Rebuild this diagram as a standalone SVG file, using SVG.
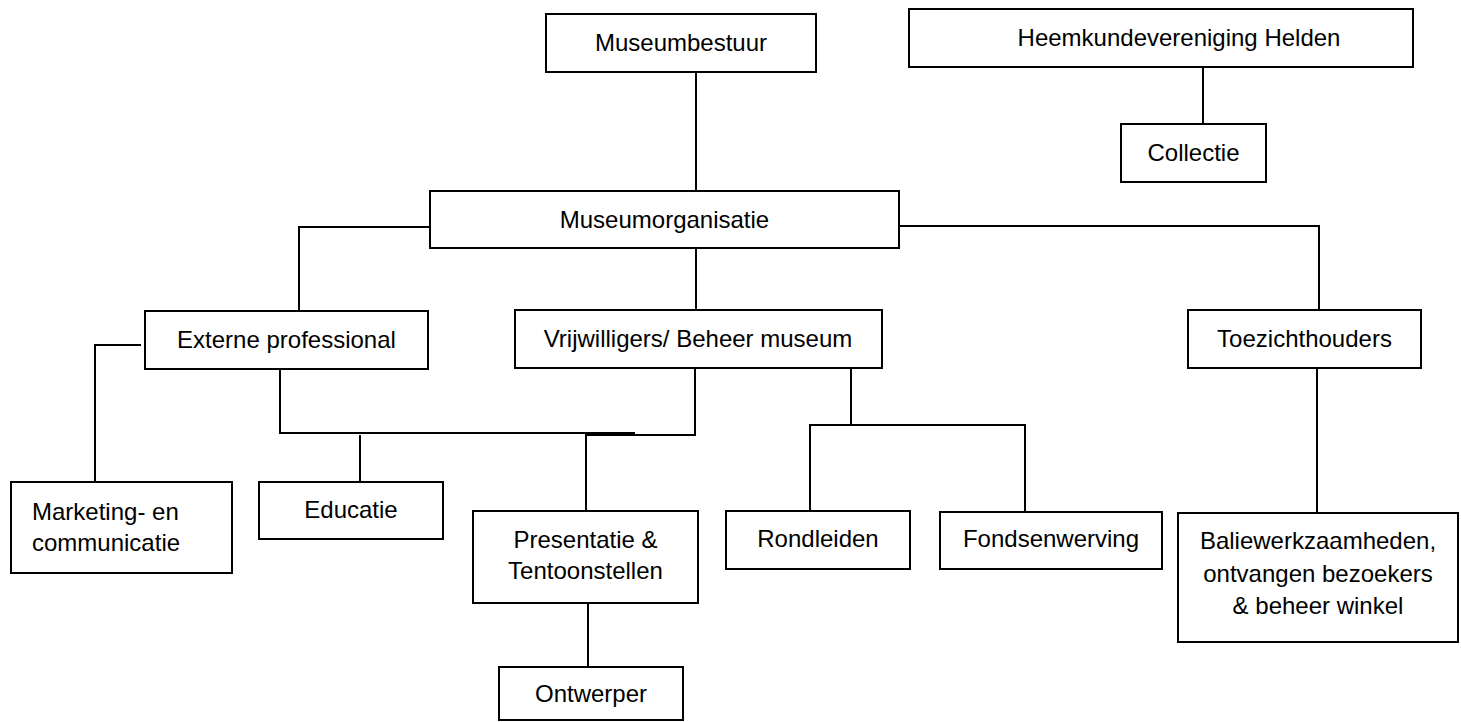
<svg xmlns="http://www.w3.org/2000/svg" width="1461" height="722" viewBox="0 0 1461 722">
<style>
.box{fill:#fff;stroke:#000;stroke-width:2}
.lbl{font-family:"Liberation Sans",Arial,sans-serif;font-size:24px;fill:#000;text-anchor:middle}
.left{text-anchor:start}
.conn{fill:none;stroke:#000;stroke-width:2}
</style>
<rect width="1461" height="722" fill="#fff"/>
<g id="connectors" class="conn">
<path d="M696 72 V191"/>
<path d="M1203 67 V124"/>
<path d="M430 227 H299 V311"/>
<path d="M899 226 H1319 V310"/>
<path d="M696 248 V310"/>
<path d="M141 345 H95 V482"/>
<path d="M280 369 V433 H635"/>
<path d="M695 368 V435 H586 V511"/>
<path d="M360 435 V482"/>
<path d="M851 368 V425"/>
<path d="M810 511 V425 H1025 V512"/>
<path d="M1317 368 V513"/>
<path d="M588 603 V667"/>
</g>
<g id="museumbestuur"><rect class="box" x="546" y="14" width="270" height="58"/><text class="lbl" x="681" y="51">Museumbestuur</text></g>
<g id="heemkundevereniging"><rect class="box" x="909" y="9" width="504" height="58"/><text class="lbl" x="1179" y="46">Heemkundevereniging Helden</text></g>
<g id="collectie"><rect class="box" x="1121" y="124" width="145" height="58"/><text class="lbl" x="1193.5" y="161">Collectie</text></g>
<g id="museumorganisatie"><rect class="box" x="430" y="191" width="469" height="57"/><text class="lbl" x="664.5" y="228">Museumorganisatie</text></g>
<g id="externe"><rect class="box" x="145" y="311" width="283" height="58"/><text class="lbl" x="286.5" y="348">Externe professional</text></g>
<g id="vrijwilligers"><rect class="box" x="515" y="310" width="367" height="58"/><text class="lbl" x="698" y="347">Vrijwilligers/ Beheer museum</text></g>
<g id="toezichthouders"><rect class="box" x="1188" y="310" width="233" height="58"/><text class="lbl" x="1304.5" y="347">Toezichthouders</text></g>
<g id="marketing"><rect class="box" x="11" y="482" width="221" height="91"/><text class="lbl left" x="32" y="520">Marketing- en</text><text class="lbl left" x="32" y="551">communicatie</text></g>
<g id="educatie"><rect class="box" x="259" y="482" width="184" height="57"/><text class="lbl" x="351" y="518">Educatie</text></g>
<g id="presentatie"><rect class="box" x="473" y="511" width="225" height="92"/><text class="lbl" x="585.5" y="548">Presentatie &amp;</text><text class="lbl" x="585.5" y="579">Tentoonstellen</text></g>
<g id="ontwerper"><rect class="box" x="499" y="667" width="184" height="53"/><text class="lbl" x="591" y="702">Ontwerper</text></g>
<g id="rondleiden"><rect class="box" x="726" y="511" width="184" height="58"/><text class="lbl" x="818" y="547">Rondleiden</text></g>
<g id="fondsenwerving"><rect class="box" x="940" y="512" width="222" height="57"/><text class="lbl" x="1051" y="547">Fondsenwerving</text></g>
<g id="baliewerk"><rect class="box" x="1178" y="513" width="280" height="129"/><text class="lbl" x="1318" y="549">Baliewerkzaamheden,</text><text class="lbl" x="1318" y="582">ontvangen bezoekers</text><text class="lbl" x="1318" y="614">&amp; beheer winkel</text></g>
</svg>
